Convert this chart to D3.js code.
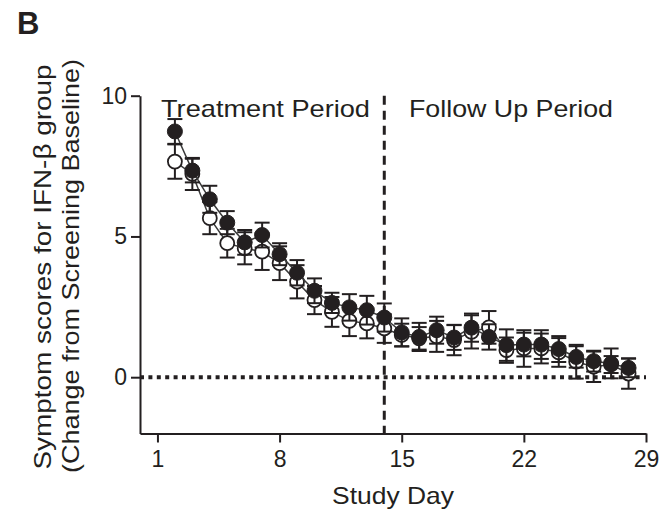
<!DOCTYPE html>
<html>
<head>
<meta charset="utf-8">
<script src="https://cdn.jsdelivr.net/npm/d3@7/dist/d3.min.js"></script>
<style>
    body { margin: 0; background: #fff; }
    text { font-family: "Liberation Sans", Arial, sans-serif; fill: #231f20; }
</style>
</head>
<body>
<div id="chart"></div>
<script>
// study days with a measurement
var days = [2, 3, 4, 5, 6, 7, 8, 9, 10, 11, 12, 13, 14, 15,
    16, 17, 18, 19, 20, 21, 22, 23, 24, 25, 26, 27, 28];

// filled circles
var filledMean = [8.73, 7.34, 6.32, 5.49, 4.79, 5.05, 4.37, 3.71, 3.07, 2.64, 2.48, 2.38, 2.12, 1.59,
    1.43, 1.67, 1.41, 1.76, 1.43, 1.14, 1.16, 1.16, 1.00, 0.72, 0.57, 0.49, 0.33];
var filledSem = [0.44, 0.42, 0.48, 0.41, 0.44, 0.44, 0.39, 0.45, 0.44, 0.36, 0.47, 0.51, 0.50, 0.50,
    0.50, 0.48, 0.44, 0.50, 0.45, 0.56, 0.42, 0.51, 0.46, 0.38, 0.37, 0.53, 0.33];

// open circles
var openMean = [7.66, 7.22, 5.65, 4.76, 4.58, 4.46, 4.05, 3.39, 2.74, 2.32, 2.00, 1.91, 1.73, 1.50,
    1.38, 1.45, 1.32, 1.61, 1.77, 0.96, 1.02, 1.02, 0.88, 0.55, 0.37, 0.45, 0.13];
var openSem = [0.61, 0.57, 0.57, 0.51, 0.57, 0.65, 0.60, 0.59, 0.50, 0.53, 0.54, 0.53, 0.51, 0.40,
    0.40, 0.55, 0.54, 0.59, 0.58, 0.45, 0.65, 0.53, 0.51, 0.60, 0.54, 0.30, 0.54];

var xTicks = [1, 8, 15, 22, 29];
var yTicks = [0, 5, 10];
var periodSplit = 14;

var width = 665, height = 513;
var ink = "#231f20";

var svg = d3.select("#chart").append("svg")
    .attr("width", width)
    .attr("height", height);

var x = d3.scaleLinear().domain([0, 29]).range([140, 646]);
var y = d3.scaleLinear().domain([-2, 10]).range([433.5, 95.7]);

// axes
var yAxis = svg.append("g")
    .attr("transform", "translate(140,0)")
    .call(d3.axisLeft(y).tickValues(yTicks).tickSize(9).tickSizeOuter(0).tickPadding(4));
var xAxis = svg.append("g")
    .attr("transform", "translate(0,433.5)")
    .call(d3.axisBottom(x).tickValues(xTicks).tickSize(9).tickSizeOuter(0).tickPadding(8));

[xAxis, yAxis].forEach(function (g) {
    g.select(".domain").attr("stroke", ink).attr("stroke-width", 2);
    g.selectAll(".tick line").attr("stroke", ink).attr("stroke-width", 2);
    g.selectAll(".tick text")
        .attr("fill", ink)
        .style("font-size", "23px")
        .style("font-family", "'Liberation Sans', Arial, sans-serif");
});

// reference lines
svg.append("line")
    .attr("x1", x(0)).attr("x2", x(29))
    .attr("y1", y(0)).attr("y2", y(0))
    .attr("stroke", ink)
    .attr("stroke-width", 4)
    .attr("stroke-dasharray", "4,4.4");

svg.append("line")
    .attr("x1", x(periodSplit)).attr("x2", x(periodSplit))
    .attr("y1", y(10)).attr("y2", y(-2))
    .attr("stroke", ink)
    .attr("stroke-width", 3)
    .attr("stroke-dasharray", "9,6");

function plotSeries(mean, sem, filled) {
    var data = days.map(function (d, i) {
        return {day: d, value: mean[i], sem: sem[i]};
    });
    var g = svg.append("g");

    g.append("path")
        .datum(data)
        .attr("fill", "none")
        .attr("stroke", "#3a3a3a")
        .attr("stroke-width", 1.5)
        .attr("d", d3.line()
            .x(function (d) { return x(d.day); })
            .y(function (d) { return y(d.value); }));

    var bars = g.selectAll(".err")
        .data(data)
        .enter().append("g")
        .attr("stroke", ink)
        .attr("stroke-width", 2);
    bars.append("line")
        .attr("x1", function (d) { return x(d.day); })
        .attr("x2", function (d) { return x(d.day); })
        .attr("y1", function (d) { return y(d.value - d.sem); })
        .attr("y2", function (d) { return y(d.value + d.sem); });
    bars.append("line")
        .attr("x1", function (d) { return x(d.day) - 7.5; })
        .attr("x2", function (d) { return x(d.day) + 7.5; })
        .attr("y1", function (d) { return y(d.value + d.sem); })
        .attr("y2", function (d) { return y(d.value + d.sem); });
    bars.append("line")
        .attr("x1", function (d) { return x(d.day) - 7.5; })
        .attr("x2", function (d) { return x(d.day) + 7.5; })
        .attr("y1", function (d) { return y(d.value - d.sem); })
        .attr("y2", function (d) { return y(d.value - d.sem); });

    g.selectAll("circle")
        .data(data)
        .enter().append("circle")
        .attr("cx", function (d) { return x(d.day); })
        .attr("cy", function (d) { return y(d.value); })
        .attr("r", filled ? 7.5 : 7)
        .attr("fill", filled ? ink : "#fff")
        .attr("stroke", ink)
        .attr("stroke-width", filled ? 1 : 1.8);
}

plotSeries(openMean, openSem, false);
plotSeries(filledMean, filledSem, true);

// labels (the original type is a little wider than Arial, so stretch the glyphs)
function label(txt, size, len) {
    return svg.append("text")
        .attr("textLength", len)
        .attr("lengthAdjust", "spacingAndGlyphs")
        .style("font-size", size + "px")
        .text(txt);
}

label("Treatment Period", 24, 209).attr("x", 161).attr("y", 117);
label("Follow Up Period", 24, 204).attr("x", 409).attr("y", 117);

label("Study Day", 24, 122)
    .attr("x", 393).attr("y", 504)
    .attr("text-anchor", "middle");

label("Symptom scores for IFN-\u03b2 group", 24, 405)
    .attr("transform", "translate(51,267) rotate(-90)")
    .attr("text-anchor", "middle");

label("(Change from Screening Baseline)", 24, 414)
    .attr("transform", "translate(79,266) rotate(-90)")
    .attr("text-anchor", "middle");

svg.append("text")
    .attr("x", 17).attr("y", 34)
    .style("font-size", "31px")
    .style("font-weight", "bold")
    .text("B");
</script>
</body>
</html>
